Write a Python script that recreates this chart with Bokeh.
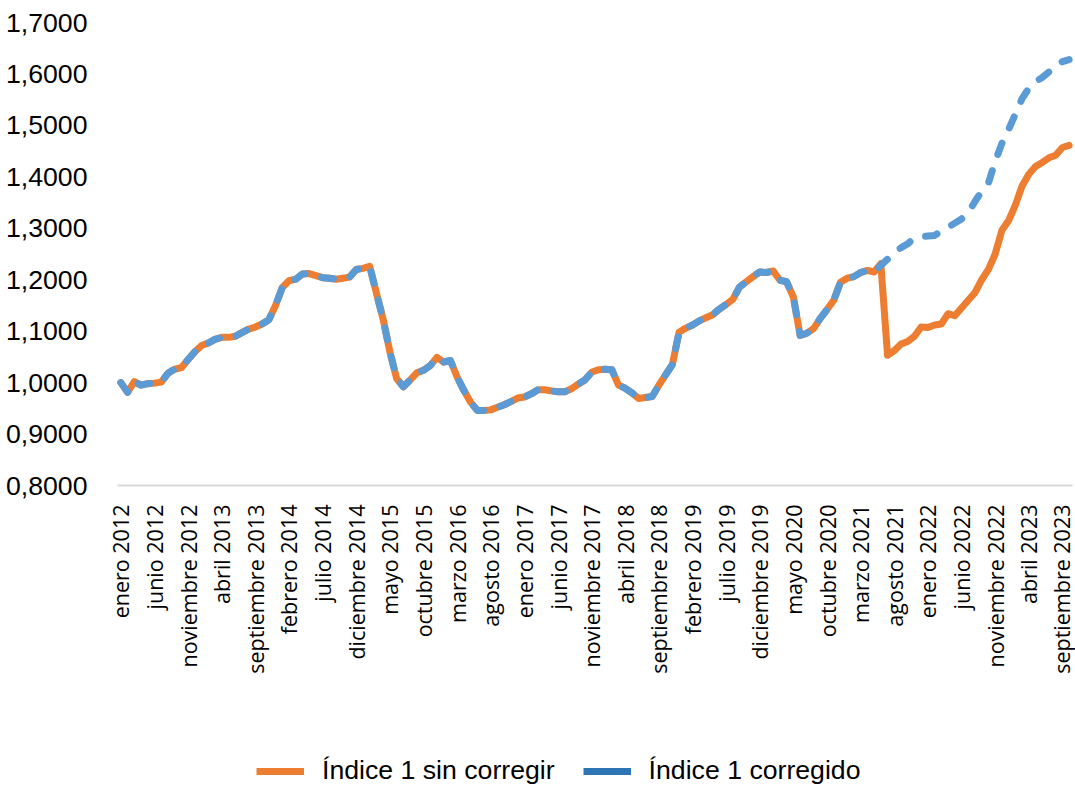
import math
from bokeh.plotting import figure
from bokeh.models import (Range1d, FixedTicker, CustomJSTickFormatter, Legend,
                          LegendItem, ColumnDataSource)
from bokeh.embed import file_html
from bokeh.resources import INLINE

# ---- data -------------------------------------------------------------
meses = ["enero", "febrero", "marzo", "abril", "mayo", "junio", "julio",
         "agosto", "septiembre", "octubre", "noviembre", "diciembre"]
anio_inicio = 2012
n_meses = 142  # enero 2012 .. octubre 2023
periodos = [f"{meses[i % 12]} {anio_inicio + i // 12}" for i in range(n_meses)]

indice_sin_corregir = [
    1.000, 0.981, 1.002, 0.995, 0.998, 0.999, 1.001, 1.018, 1.026, 1.029,
    1.045, 1.060, 1.072, 1.077, 1.084, 1.088, 1.088, 1.090, 1.097, 1.104,
    1.108, 1.114, 1.122, 1.150, 1.185, 1.198, 1.201, 1.211, 1.212, 1.208,
    1.204, 1.203, 1.201, 1.203, 1.205, 1.220, 1.222, 1.226, 1.174, 1.123,
    1.060, 1.008, 0.992, 1.005, 1.019, 1.024, 1.033, 1.049, 1.040, 1.043,
    1.011, 0.985, 0.962, 0.946, 0.946, 0.947, 0.952, 0.957, 0.963, 0.970,
    0.972, 0.978, 0.986, 0.986, 0.984, 0.982, 0.982, 0.988, 0.997, 1.005,
    1.020, 1.025, 1.026, 1.025, 0.995, 0.989, 0.980, 0.969, 0.971, 0.973,
    0.995, 1.015, 1.035, 1.098, 1.106, 1.112, 1.120, 1.126, 1.132, 1.143,
    1.152, 1.162, 1.186, 1.196, 1.206, 1.215, 1.214, 1.217, 1.199, 1.196,
    1.166, 1.092, 1.096, 1.105, 1.125, 1.142, 1.160, 1.195, 1.203, 1.206,
    1.214, 1.218, 1.215, 1.231, 1.053, 1.062, 1.075, 1.080, 1.090, 1.108,
    1.107, 1.112, 1.114, 1.134, 1.130, 1.145, 1.160, 1.175, 1.200, 1.220,
    1.250, 1.296, 1.315, 1.345, 1.382, 1.405, 1.420, 1.428, 1.437, 1.442,
    1.457, 1.461,
]

indice_corregido = [
    1.000, 0.981, 1.002, 0.995, 0.998, 0.999, 1.001, 1.018, 1.026, 1.029,
    1.045, 1.060, 1.072, 1.077, 1.084, 1.088, 1.088, 1.090, 1.097, 1.104,
    1.108, 1.114, 1.122, 1.150, 1.185, 1.198, 1.201, 1.211, 1.212, 1.208,
    1.204, 1.203, 1.201, 1.203, 1.205, 1.220, 1.222, 1.226, 1.174, 1.123,
    1.060, 1.008, 0.992, 1.005, 1.019, 1.024, 1.033, 1.049, 1.040, 1.043,
    1.011, 0.985, 0.962, 0.946, 0.946, 0.947, 0.952, 0.957, 0.963, 0.970,
    0.972, 0.978, 0.986, 0.986, 0.984, 0.982, 0.982, 0.988, 0.997, 1.005,
    1.020, 1.025, 1.026, 1.025, 0.995, 0.989, 0.980, 0.969, 0.971, 0.973,
    0.995, 1.015, 1.035, 1.098, 1.106, 1.112, 1.120, 1.126, 1.132, 1.143,
    1.152, 1.162, 1.186, 1.196, 1.206, 1.215, 1.214, 1.217, 1.199, 1.196,
    1.166, 1.092, 1.096, 1.105, 1.125, 1.142, 1.160, 1.195, 1.203, 1.206,
    1.214, 1.218, 1.215, 1.228, 1.240, 1.254, 1.262, 1.270, 1.281, 1.284,
    1.285, 1.286, 1.295, 1.302, 1.310, 1.318, 1.330, 1.352, 1.372, 1.388,
    1.430, 1.465, 1.492, 1.522, 1.552, 1.572, 1.585, 1.593, 1.604, 1.616,
    1.624, 1.628,
]

y_ticks = [0.8, 0.9, 1.0, 1.1, 1.2, 1.3, 1.4, 1.5, 1.6, 1.7]
y_axis_min = 0.8
y_axis_max = 1.7
x_tick_step = 5
series_labels = ["Índice 1 sin corregir", "Índice 1 corregido"]

# ---- styles / geometry ------------------------------------------------
ORANGE = "#ED7D31"
BLUE = "#5B9BD5"
BLUE_LEGEND = "#2E75B6"
AXIS_GREY = "#D9D9D9"

W, H = 1075, 787
TOP = 22
PLOT_LEFT_PX, PLOT_RIGHT_PX = 117, 1072   # Excel plot area
FRAME_LEFT_PX, FRAME_RIGHT_PX = 100, 1075  # bokeh frame (room for labels)
AXIS_Y_PX = 485                            # pixel row of the category axis

px_per_cat = (PLOT_RIGHT_PX - PLOT_LEFT_PX) / n_meses
x_start = -0.5 - (PLOT_LEFT_PX - FRAME_LEFT_PX) / px_per_cat
x_end = n_meses - 0.5 + (FRAME_RIGHT_PX - PLOT_RIGHT_PX) / px_per_cat
px_per_unit = (AXIS_Y_PX - TOP) / (y_axis_max - y_axis_min)
y_start = y_axis_min - (H - AXIS_Y_PX) / px_per_unit

source = ColumnDataSource(dict(
    x=list(range(n_meses)),
    sin=indice_sin_corregir,
    cor=indice_corregido,
))

p = figure(width=W, height=H, output_backend="svg", toolbar_location=None,
           x_range=Range1d(x_start, x_end),
           y_range=Range1d(y_start, y_axis_max),
           min_border_left=FRAME_LEFT_PX, min_border_right=W - FRAME_RIGHT_PX,
           min_border_top=TOP, min_border_bottom=0)
p.outline_line_color = None
p.xgrid.visible = False
p.ygrid.visible = False
p.background_fill_color = "white"
p.border_fill_color = "white"

# category axis line, spanning only the plot area
p.segment(x0=[-0.5], x1=[n_meses - 0.5], y0=[y_axis_min], y1=[y_axis_min],
          line_color=AXIS_GREY, line_width=2)

p.line("x", "sin", source=source, line_color=ORANGE, line_width=7,
       line_join="round", line_cap="round")
p.line("x", "cor", source=source, line_color=BLUE, line_width=7,
       line_join="round", line_cap="round", line_dash="12 17")

# x axis, drawn at the 0,8000 level
p.xaxis.fixed_location = y_axis_min
p.xaxis.ticker = FixedTicker(ticks=list(range(0, n_meses, x_tick_step)))
p.xaxis.formatter = CustomJSTickFormatter(
    args=dict(labels=periodos),
    code="const i = Math.round(tick); return (i >= 0 && i < labels.length) ? labels[i] : '';")
p.xaxis.major_label_orientation = math.pi / 2
p.xaxis.major_label_text_font = "Open Sans"
p.xaxis.major_label_text_font_size = "21.5px"
p.xaxis.major_label_text_color = "#000000"
p.xaxis.major_label_standoff = 13
p.xaxis.axis_line_color = None
p.xaxis.major_tick_line_color = None
p.xaxis.minor_tick_line_color = None

# y axis
p.yaxis.ticker = FixedTicker(ticks=y_ticks)
p.yaxis.formatter = CustomJSTickFormatter(
    code="return tick.toFixed(4).replace('.', ',');")
p.yaxis.major_label_text_font = "Liberation Sans"
p.yaxis.major_label_text_font_size = "26.67px"
p.yaxis.major_label_text_color = "#000000"
p.yaxis.major_label_standoff = 7
p.yaxis.axis_line_color = None
p.yaxis.major_tick_line_color = None
p.yaxis.minor_tick_line_color = None

# legend (solid swatches as in the original)
nan = float("nan")
r_leg1 = p.line(x=[nan], y=[nan], line_color=ORANGE, line_width=7)
r_leg2 = p.line(x=[nan], y=[nan], line_color=BLUE_LEGEND, line_width=7)
legend = Legend(
    items=[LegendItem(label=series_labels[0], renderers=[r_leg1]),
           LegendItem(label=series_labels[1], renderers=[r_leg2])],
    location=(256 - FRAME_LEFT_PX, 1), orientation="horizontal",
    glyph_width=48, glyph_height=30, label_standoff=18, spacing=28,
    padding=0, margin=0, border_line_color=None, background_fill_alpha=0,
    label_text_font="Liberation Sans", label_text_font_size="26.67px",
    label_text_color="#000000",
)
p.add_layout(legend)

open("out.html", "w").write(file_html(p, INLINE))
